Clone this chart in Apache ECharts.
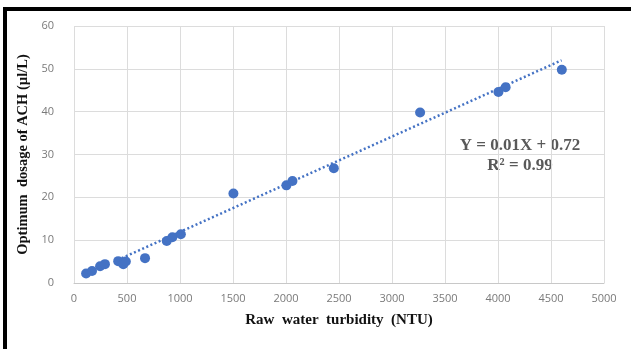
<!DOCTYPE html>
<html>
<head>
<meta charset="utf-8">
<script src="https://cdn.jsdelivr.net/npm/echarts@6/dist/echarts.min.js"></script>
<style>
  html, body { margin: 0; padding: 0; background: #fff; }
  #chart { width: 631px; height: 349px; }
</style>
</head>
<body>
<div id="chart"></div>
<script>
// Turbidité de l'eau brute (NTU) et dose optimale d'ACH (µl/L)
const turbidity = [ 114, 170, 246, 292, 417, 465, 489, 670, 875, 928, 1008, 1504, 2004, 2061, 2451, 3265, 4004, 4072, 4602 ];
const dosage = [ 2.2, 2.8, 3.9, 4.4, 5.1, 4.4, 5.0, 5.8, 9.8, 10.7, 11.4, 20.9, 22.8, 23.8, 26.8, 39.8, 44.6, 45.7, 49.8 ];

// Extrémités de la droite de tendance (pointillés)
const trendX = [ 450, 4600 ];
const trendY = [ 5.8, 52.0 ];

const equationText = [ 'Y = 0.01X + 0.72', 'R² = 0.99' ];

const chart = echarts.init( document.getElementById( 'chart' ) );

const points = turbidity.map( ( x, i ) => [ x, dosage[ i ] ] );
const trend = trendX.map( ( x, i ) => [ x, trendY[ i ] ] );

const tickFont = { color: '#7a7a7a', fontFamily: 'Open Sans', fontSize: 11 };

chart.setOption( {
  animation: false,
  grid: { left: 74, right: 27, top: 26, bottom: 66 },
  xAxis: {
    type: 'value',
    min: 0,
    max: 5000,
    interval: 500,
    name: 'Raw  water  turbidity  (NTU)',
    nameLocation: 'middle',
    nameGap: 30,
    nameTextStyle: { color: '#111', fontFamily: 'Liberation Serif', fontWeight: 'bold', fontSize: 15 },
    axisLine: { show: true, lineStyle: { color: '#c8c8c8' } },
    axisTick: { show: false },
    axisLabel: Object.assign( { margin: 10, formatter: ( v ) => String( v ) }, tickFont ),
    splitLine: { show: true, lineStyle: { color: '#dcdcdc', width: 1 } }
  },
  yAxis: {
    type: 'value',
    min: 0,
    max: 60,
    interval: 10,
    name: 'Optimum  dosage of ACH (µl/L)',
    nameLocation: 'middle',
    nameGap: 32,
    nameTextStyle: { color: '#111', fontFamily: 'Liberation Serif', fontWeight: 'bold', fontSize: 14.5 },
    axisLine: { show: false },
    axisTick: { show: false },
    axisLabel: Object.assign( { margin: 20 }, tickFont ),
    splitLine: { show: true, lineStyle: { color: '#dcdcdc', width: 1 } }
  },
  series: [
    {
      type: 'line',
      data: trend,
      symbol: 'none',
      lineStyle: { color: '#4472c4', width: 2.5, type: [ 2, 2.5 ] },
      z: 2
    },
    {
      type: 'scatter',
      data: points,
      symbolSize: 10,
      itemStyle: { color: '#4472c4', opacity: 1 },
      z: 3
    }
  ],
  graphic: [
    // cadre noir en haut et à gauche
    { type: 'rect', shape: { x: 3, y: 7, width: 628, height: 4 }, style: { fill: '#000' } },
    { type: 'rect', shape: { x: 3, y: 7, width: 4, height: 342 }, style: { fill: '#000' } },
    {
      type: 'text',
      x: 520,
      y: 146,
      style: {
        text: equationText[ 0 ],
        align: 'center',
        verticalAlign: 'middle',
        fill: '#595959',
        font: 'bold 17px "Liberation Serif"'
      }
    },
    {
      type: 'text',
      x: 520,
      y: 166,
      style: {
        text: equationText[ 1 ],
        align: 'center',
        verticalAlign: 'middle',
        fill: '#595959',
        font: 'bold 17px "Liberation Serif"'
      }
    }
  ]
} );
</script>
</body>
</html>
